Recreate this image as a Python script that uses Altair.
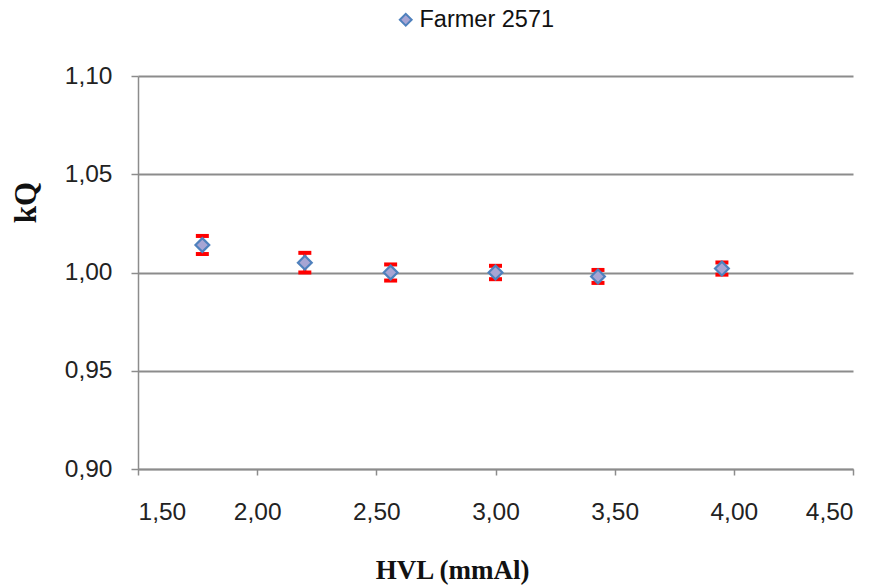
import altair as alt
import pandas as pd

# Beam quality correction factor kQ against half-value layer
hvl = [1.77, 2.20, 2.56, 3.00, 3.43, 3.95]
kq = [1.014, 1.005, 1.000, 1.000, 0.998, 1.002]
err = [0.0046, 0.0050, 0.0041, 0.0034, 0.0033, 0.0031]
series = "Farmer 2571"

x_ticks = [1.5, 2.0, 2.5, 3.0, 3.5, 4.0, 4.5]
y_ticks = [0.90, 0.95, 1.00, 1.05, 1.10]

df = pd.DataFrame({"hvl": hvl, "kq": kq, "err": err})
df["lo"] = df["kq"] - df["err"]
df["hi"] = df["kq"] + df["err"]
df["serie"] = series

FONT = "Liberation Sans"
GRID = "#8c8c8c"
comma = "replace(format(datum.value, '.2f'), '.', ',')"

x_scale = alt.Scale(domain=[1.5, 4.5], nice=False, zero=False)
y_scale = alt.Scale(domain=[0.90, 1.10], nice=False, zero=False)

x_axis = alt.Axis(
    values=x_ticks, labelExpr=comma, grid=False, title="HVL (mmAl)",
    titleFont="Liberation Serif", titleFontSize=27, titleFontWeight="bold",
    titleColor="#111", titleX=314, titleY=101, titleBaseline="middle",
    titleAlign="center", titleAnchor="start",
    labelFont=FONT, labelFontSize=24.5, labelColor="#222", labelPadding=25,
    tickSize=6, tickColor=GRID, tickWidth=1.5, domainColor=GRID, domainWidth=1.5,
)
y_axis = alt.Axis(
    values=y_ticks, labelExpr=comma, grid=True, gridColor=GRID, gridWidth=1.8,
    title="kQ", titleFont="Liberation Serif", titleFontSize=31,
    titleFontWeight="bold", titleColor="#111", titleX=-112, titleY=126,
    titleBaseline="middle", titleAlign="center", titleAngle=270, titleAnchor="start",
    labelFont=FONT, labelFontSize=24.5, labelColor="#222", labelPadding=19,
    tickSize=7, tickColor=GRID, tickWidth=1.5, domainColor=GRID, domainWidth=1.5,
)

base = alt.Chart(df)
X = alt.X("hvl:Q", scale=x_scale, axis=x_axis)

# error bars: vertical stem plus caps
stems = base.mark_rule(color="#ff0000", strokeWidth=3).encode(
    x=X,
    y=alt.Y("lo:Q", scale=y_scale, axis=y_axis),
    y2="hi:Q",
)
caps_lo = base.mark_tick(color="#ff0000", thickness=4, size=13, orient="horizontal", opacity=1).encode(
    x=X, y=alt.Y("lo:Q", scale=y_scale, axis=y_axis)
)
caps_hi = base.mark_tick(color="#ff0000", thickness=4, size=13, orient="horizontal", opacity=1).encode(
    x=X, y=alt.Y("hi:Q", scale=y_scale, axis=y_axis)
)

points = base.mark_point(
    shape="diamond", filled=True, size=190, stroke="#4f81bd", strokeWidth=2.2, opacity=1
).encode(
    x=X,
    y=alt.Y("kq:Q", scale=y_scale, axis=y_axis),
    color=alt.Color(
        "serie:N",
        scale=alt.Scale(range=["#a7a5d4"]),
        legend=alt.Legend(
            title=None, orient="none", legendX=256, legendY=-68, padding=0,
            symbolType="diamond", symbolSize=140, symbolStrokeColor="#4f81bd",
            symbolStrokeWidth=2, symbolFillColor="#a7a5d4", symbolOpacity=1,
            labelFont=FONT, labelFontSize=23.5, labelColor="#111", labelOffset=2,
        ),
    ),
)

chart = (
    alt.layer(stems, caps_lo, caps_hi, points)
    .properties(
        width=715, height=393,
        autosize=alt.AutoSizeParams(type="none"),
        padding={"left": 138, "top": 76, "right": 29, "bottom": 116},
        background="white",
    )
    .configure_view(stroke=None)
)

chart.save("out.html", embed_options={"renderer": "svg", "actions": False})
